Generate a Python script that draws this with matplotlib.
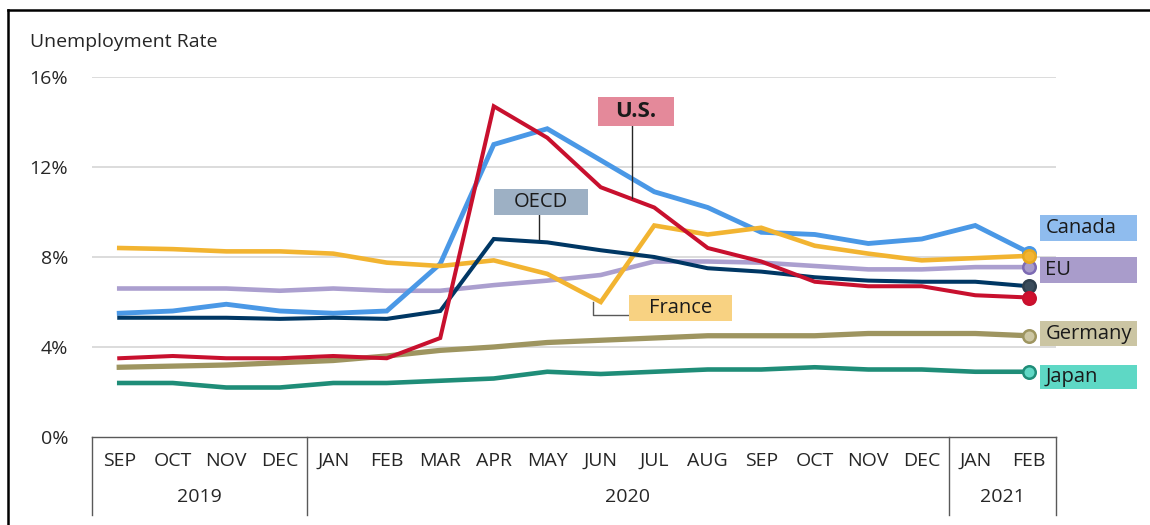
import matplotlib
matplotlib.use("Agg")
import matplotlib.pyplot as plt
from matplotlib.patches import Rectangle
import matplotlib.transforms as mtransforms

plt.rcParams['font.family'] = ['Open Sans', 'DejaVu Sans']

months = ["SEP", "OCT", "NOV", "DEC", "JAN", "FEB", "MAR", "APR", "MAY", "JUN",
          "JUL", "AUG", "SEP", "OCT", "NOV", "DEC", "JAN", "FEB"]
years = ["2019", "2020", "2021"]
year_spans = [(0, 3), (4, 15), (16, 17)]

canada = [5.5, 5.6, 5.9, 5.6, 5.5, 5.6, 7.7, 13.0, 13.7, 12.3, 10.9, 10.2, 9.1, 9.0, 8.6, 8.8, 9.4, 8.2]
us = [3.5, 3.6, 3.5, 3.5, 3.6, 3.5, 4.4, 14.7, 13.3, 11.1, 10.2, 8.4, 7.8, 6.9, 6.7, 6.7, 6.3, 6.2]
france = [8.4, 8.35, 8.25, 8.25, 8.15, 7.75, 7.6, 7.85, 7.25, 6.0, 9.4, 9.0, 9.3, 8.5, 8.15, 7.85, 7.95, 8.05]
eu = [6.6, 6.6, 6.6, 6.5, 6.6, 6.5, 6.5, 6.75, 6.95, 7.2, 7.8, 7.8, 7.75, 7.6, 7.45, 7.45, 7.55, 7.55]
oecd = [5.3, 5.3, 5.3, 5.25, 5.3, 5.25, 5.6, 8.8, 8.65, 8.3, 8.0, 7.5, 7.35, 7.1, 6.95, 6.9, 6.9, 6.7]
germany = [3.1, 3.15, 3.2, 3.3, 3.4, 3.6, 3.85, 4.0, 4.2, 4.3, 4.4, 4.5, 4.5, 4.5, 4.6, 4.6, 4.6, 4.5]
japan = [2.4, 2.4, 2.2, 2.2, 2.4, 2.4, 2.5, 2.6, 2.9, 2.8, 2.9, 3.0, 3.0, 3.1, 3.0, 3.0, 2.9, 2.9]

W, H = 1150, 525
fig = plt.figure(figsize=(W / 100, H / 100), dpi=100)
L, R, B, T = 92.5, 1055.5, 437, 77
ax = fig.add_axes([L / W, 1 - B / H, (R - L) / W, (B - T) / H])
x = list(range(len(months)))
ax.set_xlim(-0.5, len(months) - 0.5)
ax.set_ylim(0, 16)

FS = 14

# grid
for v in [4, 8, 12, 16]:
    ax.axhline(v, color='#d9d9d9', lw=1.3, zorder=0)
for s in ['top', 'right', 'left']:
    ax.spines[s].set_visible(False)
ax.spines['bottom'].set_color('#595959')
ax.spines['bottom'].set_linewidth(1.0)
ax.set_xticks([])
ax.set_yticks([0, 4, 8, 12, 16])
ax.set_yticklabels(["0%", "4%", "8%", "12%", "16%"], fontsize=FS, color='#262626')
ax.tick_params(axis='y', length=0, pad=17.5)

series = [
    (eu, '#ab9fcf', 3.3, '#a99ccb', '#7d6bb4', 2),
    (germany, '#9e9560', 3.8, '#cdc7a4', '#9e9560', 2),
    (japan, '#1f8d78', 3.3, '#60d8c5', '#1f8d78', 2),
    (canada, '#4a98e6', 3.5, '#4a98e6', '#4a98e6', 3),
    (france, '#f2b431', 3.3, '#f2b431', '#e6a820', 4),
    (oecd, '#003764', 2.9, '#3b4d5c', '#2e3f4d', 5),
    (us, '#c8102e', 2.9, '#d0102e', '#c8102e', 6),
]
for vals, col, lw, mfc, mec, z in series:
    ax.plot(x, vals, color=col, lw=lw, zorder=z, solid_joinstyle='miter', clip_on=False)
    ax.plot(x[-1], vals[-1], 'o', ms=9, mfc=mfc, mec=mec, mew=1.8, zorder=z + 0.5, clip_on=False)

# x axis category table
def fy(py):
    return 1 - py / H
trans = mtransforms.blended_transform_factory(ax.transData, fig.transFigure)
for i, m in enumerate(months):
    ax.text(i, fy(461), m, transform=trans, ha='center', va='center', fontsize=FS, color='#262626')
for (a, b), yr in zip(year_spans, years):
    ax.text((a + b) / 2, fy(497), yr, transform=trans, ha='center', va='center', fontsize=FS, color='#262626')
for xb in [-0.5, 3.5, 15.5, 17.5]:
    ax.plot([xb, xb], [fy(437), fy(515)], transform=trans, color='#595959', lw=1.0, clip_on=False)

# labels
def box(x0, x1, y0, y1, fc, text, bold=False, ha='left', fs=FS + 0.5):
    ax.add_patch(Rectangle((x0, y0), x1 - x0, y1 - y0, facecolor=fc, edgecolor='none',
                           zorder=8, clip_on=False))
    tx = x0 + 0.1 if ha == 'left' else (x0 + x1) / 2
    ax.text(tx, (y0 + y1) / 2, text, ha=ha, va='center', fontsize=fs, color='#1a1a1a',
            fontweight='bold' if bold else 'normal', zorder=9, clip_on=False)

box(17.21, 19.02, 8.73, 9.87, '#8fbcee', 'Canada')
box(17.21, 19.02, 6.84, 8.0, '#a99ccb', 'EU')
box(17.21, 19.02, 4.04, 5.16, '#cbc5a3', 'Germany')
box(17.21, 19.02, 2.13, 3.2, '#5ed8c5', 'Japan')
box(8.95, 10.37, 13.82, 15.11, '#e4899a', 'U.S.', bold=True, ha='center', fs=FS + 2)
box(7.0, 8.76, 9.87, 11.02, '#9db0c4', 'OECD', ha='center')
box(9.53, 11.45, 5.16, 6.31, '#f8d282', 'France', ha='center')

# leader lines
ax.plot([9.58, 9.58], [13.82, 10.62], color='#262626', lw=1.0, zorder=7)
ax.plot([7.85, 7.85], [9.87, 8.8], color='#262626', lw=1.0, zorder=7)
ax.plot([8.86, 8.86, 9.53], [6.0, 5.42, 5.42], color='#595959', lw=1.0, zorder=7)

# title
fig.text(30 / W, fy(42), "Unemployment Rate", ha='left', va='center', fontsize=FS, color='#262626')

# outer border (top and left)
fig.add_artist(plt.Line2D([8 / W, 1], [fy(10), fy(10)], color='black', lw=1.8))
fig.add_artist(plt.Line2D([8 / W, 8 / W], [0, fy(10)], color='black', lw=1.8))

fig.savefig("out.png", dpi=100, facecolor='white')
